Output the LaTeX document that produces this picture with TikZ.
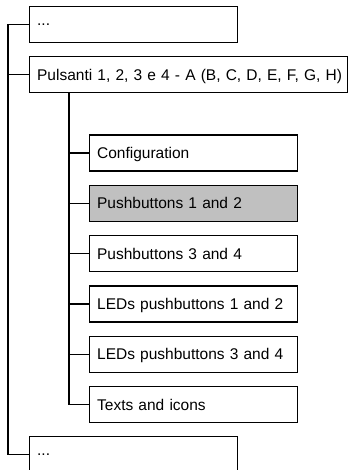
\documentclass[tikz,border=0pt]{standalone}
\usepackage{fontspec}
\setmainfont{Liberation Sans}
\definecolor{selgray}{RGB}{192,192,192}
\newcommand{\nowrap}[1]{\makebox[0pt][l]{#1}}
\begin{document}
\begin{tikzpicture}[x=1pt,y=1pt,
  box/.style={draw=black, line width=1.3pt, fill=white, anchor=north west,
    minimum height=36pt, inner xsep=7.5pt, text depth=0pt, align=left,
    font=\fontsize{15.5}{19}\selectfont},
  top/.style={box, minimum width=208pt, text width=193pt},
  wide/.style={box, minimum width=318pt, text width=303pt},
  child/.style={box, minimum width=208pt, text width=193pt},
  sel/.style={fill=selgray},
  conn/.style={line width=1.3pt}]
\useasboundingbox (0,0) rectangle (350,-470);
\clip (0,0) rectangle (350,-470);
\node[top] (t1) at (29,-6) {\nowrap{...}};
\node[wide] (t2) at (29,-56) {\nowrap{Pulsanti 1, 2, 3 e 4 - A (B, C, D, E, F, G, H)}};
\node[child] (c1) at (89,-134.3) {\nowrap{Configuration}};
\node[child,sel] (c2) at (89,-184.6) {\nowrap{Pushbuttons 1 and 2}};
\node[child] (c3) at (89,-234.9) {\nowrap{Pushbuttons 3 and 4}};
\node[child] (c4) at (89,-285.2) {\nowrap{LEDs pushbuttons 1 and 2}};
\node[child] (c5) at (89,-335.5) {\nowrap{LEDs pushbuttons 3 and 4}};
\node[child] (c6) at (89,-385.8) {\nowrap{Texts and icons}};
\node[top] (t3) at (29,-436) {\nowrap{...}};
\coordinate (outer) at (8,0);
\draw[conn] (t1.west) -- (t1.west -| outer) |- (t3.west);
\draw[conn] (t2.west) -- (t2.west -| outer);
\coordinate (inner) at (69,0);
\draw[conn] (t2.south -| inner) |- (c6.west);
\foreach \c in {c1,c2,c3,c4,c5}{
  \draw[conn] (\c.west) -- (\c.west -| inner);
}
\end{tikzpicture}
\end{document}
